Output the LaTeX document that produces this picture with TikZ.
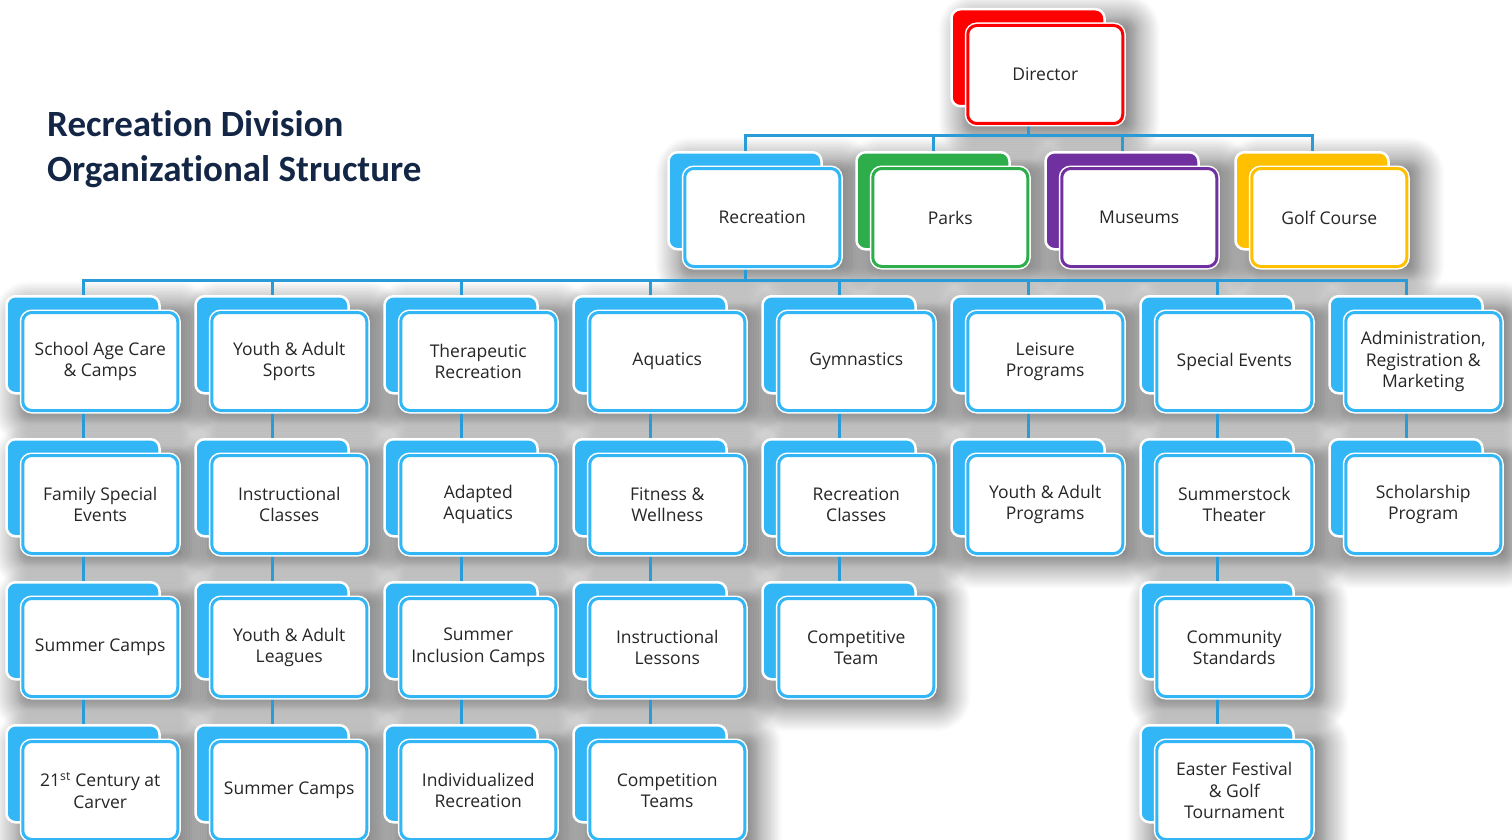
\documentclass[tikz,border=0pt]{standalone}
\usepackage{fontspec}
\setmainfont{Open Sans}
\newfontfamily\titlefont{Carlito}[Ligatures={NoCommon,NoContextual}]
\usetikzlibrary{shadows.blur,positioning}
\definecolor{cblue}{RGB}{51,182,245}
\definecolor{cline}{RGB}{41,155,215}
\definecolor{cred}{RGB}{255,0,0}
\definecolor{cgreen}{RGB}{46,173,75}
\definecolor{cpurple}{RGB}{112,48,160}
\definecolor{cgold}{RGB}{255,192,0}
\definecolor{ctext}{RGB}{38,38,38}
\definecolor{ctitle}{RGB}{20,38,70}
\pgfdeclarelayer{shadow}
\pgfdeclarelayer{lines}
\pgfsetlayers{shadow,lines,main}
\begin{document}
\begin{tikzpicture}[x=1pt,y=-1pt,
  backbox/.style={anchor=north,minimum width=153pt,minimum height=97pt,inner sep=0pt,
    rounded corners=9pt,draw=white,line width=2.5pt},
  frontbox/.style={anchor=north west,minimum width=155pt,minimum height=98pt,inner sep=0pt,
    rounded corners=9pt,fill=white,line width=3pt,
    preaction={draw=white,line width=6pt},
    align=center,text=ctext,font=\fontsize{17.5}{21.5}\selectfont},
  boxshadow/.style={rounded corners=12pt,
    blur shadow={shadow xshift=12pt,shadow yshift=-10pt,shadow blur radius=24pt,
      shadow opacity=60,shadow blur steps=14}},
  conn/.style={draw=cline,line width=3pt},
  titletext/.style={anchor=base west,text=ctitle,font=\titlefont\bfseries\fontsize{37}{46}\selectfont,inner sep=0pt}]
\useasboundingbox (0,0) rectangle (1512,840);
\newcommand\obox[5]{%
  \node[backbox,fill=#4] (#1b) at (#2,#3) {};
  \node[frontbox,draw=#4] (#1) at ([xshift=16pt,yshift=-16pt]#1b.north west) {#5};
  \begin{pgfonlayer}{shadow}
    \path[boxshadow] (#1b.north west) rectangle (#1.south east);
  \end{pgfonlayer}}

% title
\node[titletext] (t1) at (47,136) {Recreation Division};
\node[titletext] (t2) at (47,181) {Organizational Structure};

% director and level 2
\obox{dir}{1028}{8}{cred}{Director}
\obox{rec}{745}{151}{cblue}{Recreation}
\obox{parks}{933}{151}{cgreen}{Parks}
\obox{mus}{1122}{151}{cpurple}{Museums}
\obox{golf}{1312}{151}{cgold}{Golf Course}

% level 3 columns
\obox{a1}{83}{295}{cblue}{School Age Care\\\& Camps}
\obox{a2}{83}{438}{cblue}{Family Special\\Events}
\obox{a3}{83}{581}{cblue}{Summer Camps}
\obox{a4}{83}{724}{cblue}{21\textsuperscript{st} Century at\\Carver}

\obox{b1}{272}{295}{cblue}{Youth \& Adult\\Sports}
\obox{b2}{272}{438}{cblue}{Instructional\\Classes}
\obox{b3}{272}{581}{cblue}{Youth \& Adult\\Leagues}
\obox{b4}{272}{724}{cblue}{Summer Camps}

\obox{c1}{461}{295}{cblue}{Therapeutic\\Recreation}
\obox{c2}{461}{438}{cblue}{Adapted\\Aquatics}
\obox{c3}{461}{581}{cblue}{Summer\\Inclusion Camps}
\obox{c4}{461}{724}{cblue}{Individualized\\Recreation}

\obox{d1}{650}{295}{cblue}{Aquatics}
\obox{d2}{650}{438}{cblue}{Fitness \&\\Wellness}
\obox{d3}{650}{581}{cblue}{Instructional\\Lessons}
\obox{d4}{650}{724}{cblue}{Competition\\Teams}

\obox{e1}{839}{295}{cblue}{Gymnastics}
\obox{e2}{839}{438}{cblue}{Recreation\\Classes}
\obox{e3}{839}{581}{cblue}{Competitive\\Team}

\obox{f1}{1028}{295}{cblue}{Leisure\\Programs}
\obox{f2}{1028}{438}{cblue}{Youth \& Adult\\Programs}

\obox{g1}{1217}{295}{cblue}{Special Events}
\obox{g2}{1217}{438}{cblue}{Summerstock\\Theater}
\obox{g3}{1217}{581}{cblue}{Community\\Standards}
\obox{g4}{1217}{724}{cblue}{Easter Festival\\\& Golf\\Tournament}

\obox{h1}{1406}{295}{cblue}{Administration,\\Registration \&\\Marketing}
\obox{h2}{1406}{438}{cblue}{Scholarship\\Program}

\coordinate (bus1) at (0,136);
\coordinate (bus2) at (0,280);
\begin{pgfonlayer}{lines}
  \draw[conn] (dirb.south) -- (dirb.south |- bus1);
  \draw[conn] (recb.north) -- (recb.north |- bus1) -- (golfb.north |- bus1) -- (golfb.north);
  \draw[conn] (parksb.north) -- (parksb.north |- bus1);
  \draw[conn] (musb.north) -- (musb.north |- bus1);
  \draw[conn] (recb.south) -- (recb.south |- bus2);
  \draw[conn] (a1b.north) -- (a1b.north |- bus2) -- (h1b.north |- bus2) -- (h1b.north);
  \foreach \c in {b,c,d,e,f,g}{\draw[conn] (\c1b.north) -- (\c1b.north |- bus2);}
  \foreach \c in {a,b,c,d,g}{
    \draw[conn] (\c1b.south) -- (\c2b.north);
    \draw[conn] (\c2b.south) -- (\c3b.north);
    \draw[conn] (\c3b.south) -- (\c4b.north);}
  \draw[conn] (e1b.south) -- (e2b.north);
  \draw[conn] (e2b.south) -- (e3b.north);
  \draw[conn] (f1b.south) -- (f2b.north);
  \draw[conn] (h1b.south) -- (h2b.north);
\end{pgfonlayer}
\end{tikzpicture}
\end{document}
